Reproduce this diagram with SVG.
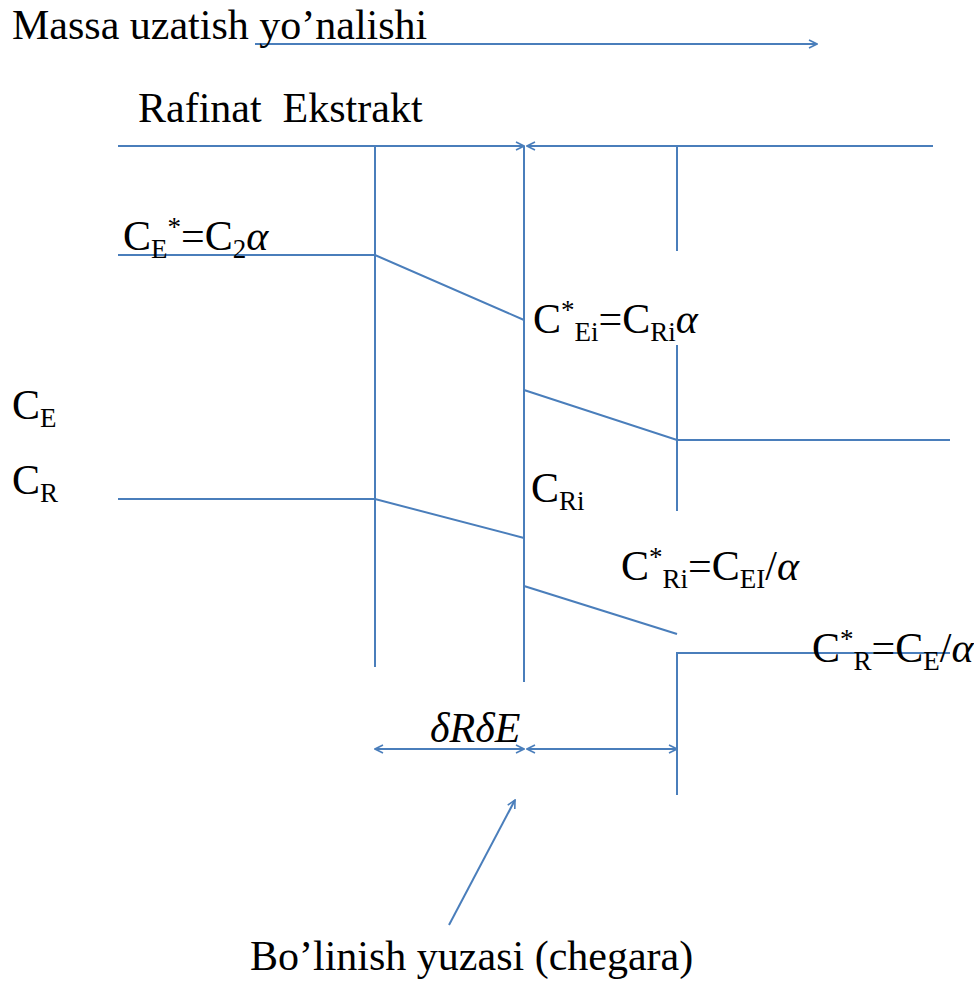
<svg xmlns="http://www.w3.org/2000/svg" width="974" height="983" viewBox="0 0 974 983">
<defs>
<marker id="ah" viewBox="0 0 10 10" refX="9" refY="5" markerWidth="10" markerHeight="10" markerUnits="userSpaceOnUse" orient="auto-start-reverse">
<path d="M1,1 L9,5 L1,9" fill="none" stroke="#4a7ebb" stroke-width="1.6"/>
</marker>
<style>
.ln{stroke:#4a7ebb;stroke-width:2;fill:none}
.t{font-family:"Liberation Serif","Times New Roman",serif;font-size:42px;fill:#000}
.s{font-size:27px}
.i{font-style:italic}
</style>
</defs>
<rect width="974" height="983" fill="#fff"/>
<g id="connectors">
<line class="ln" x1="255" y1="44" x2="817" y2="44" marker-end="url(#ah)"/>
<line class="ln" x1="118" y1="146" x2="524" y2="146" marker-end="url(#ah)"/>
<line class="ln" x1="933" y1="146" x2="527" y2="146" marker-end="url(#ah)"/>
<line class="ln" x1="375" y1="146" x2="375" y2="667"/>
<line class="ln" x1="524" y1="146" x2="524" y2="682"/>
<line class="ln" x1="677" y1="146" x2="677" y2="251"/>
<line class="ln" x1="677" y1="345" x2="677" y2="511"/>
<polyline class="ln" points="118,255 375,255 524,320"/>
<polyline class="ln" points="524,390 677,440 950,440"/>
<polyline class="ln" points="118,499 375,499 524,538"/>
<line class="ln" x1="524" y1="586" x2="677" y2="634"/>
<polyline class="ln" points="950,653 677,653 677,795"/>
<line class="ln" x1="375" y1="749" x2="524" y2="749" marker-start="url(#ah)" marker-end="url(#ah)"/>
<line class="ln" x1="527" y1="749" x2="677" y2="749" marker-start="url(#ah)" marker-end="url(#ah)"/>
<line class="ln" x1="449" y1="925" x2="515" y2="800" marker-end="url(#ah)"/>
</g>
<g id="title"><text class="t" x="12" y="39">Massa uzatish yo’nalishi</text></g>
<g id="phases"><text class="t" x="138" y="122">Rafinat&#160; Ekstrakt</text></g>
<g id="ce-star"><text class="t" x="123" y="250">C<tspan class="s" dy="8">E</tspan><tspan class="s" dy="-22">*</tspan><tspan dy="14">=C</tspan><tspan class="s" dy="8">2</tspan><tspan class="i" dy="-8">α</tspan></text></g>
<g id="cei-star"><text class="t" x="533" y="333">C<tspan class="s" dy="-14">*</tspan><tspan class="s" dy="22">Ei</tspan><tspan dy="-8">=C</tspan><tspan class="s" dy="8">Ri</tspan><tspan class="i" dy="-8">α</tspan></text></g>
<g id="ce"><text class="t" x="12" y="419">C<tspan class="s" dy="8">E</tspan></text></g>
<g id="cr"><text class="t" x="12" y="494">C<tspan class="s" dy="8">R</tspan></text></g>
<g id="cri"><text class="t" x="531" y="502">C<tspan class="s" dy="8">Ri</tspan></text></g>
<g id="cri-star"><text class="t" x="621" y="580">C<tspan class="s" dy="-14">*</tspan><tspan class="s" dy="22">Ri</tspan><tspan dy="-8">=C</tspan><tspan class="s" dy="8">EI</tspan><tspan dy="-8">/</tspan><tspan class="i">α</tspan></text></g>
<g id="cr-star"><text class="t" x="812" y="662">C<tspan class="s" dy="-14">*</tspan><tspan class="s" dy="22">R</tspan><tspan dy="-8">=C</tspan><tspan class="s" dy="8">E</tspan><tspan dy="-8">/</tspan><tspan class="i">α</tspan></text></g>
<g id="delta"><text class="t i" x="430" y="742">δRδE</text></g>
<g id="surface"><text class="t" x="250" y="970">Bo’linish yuzasi (chegara)</text></g>
</svg>
